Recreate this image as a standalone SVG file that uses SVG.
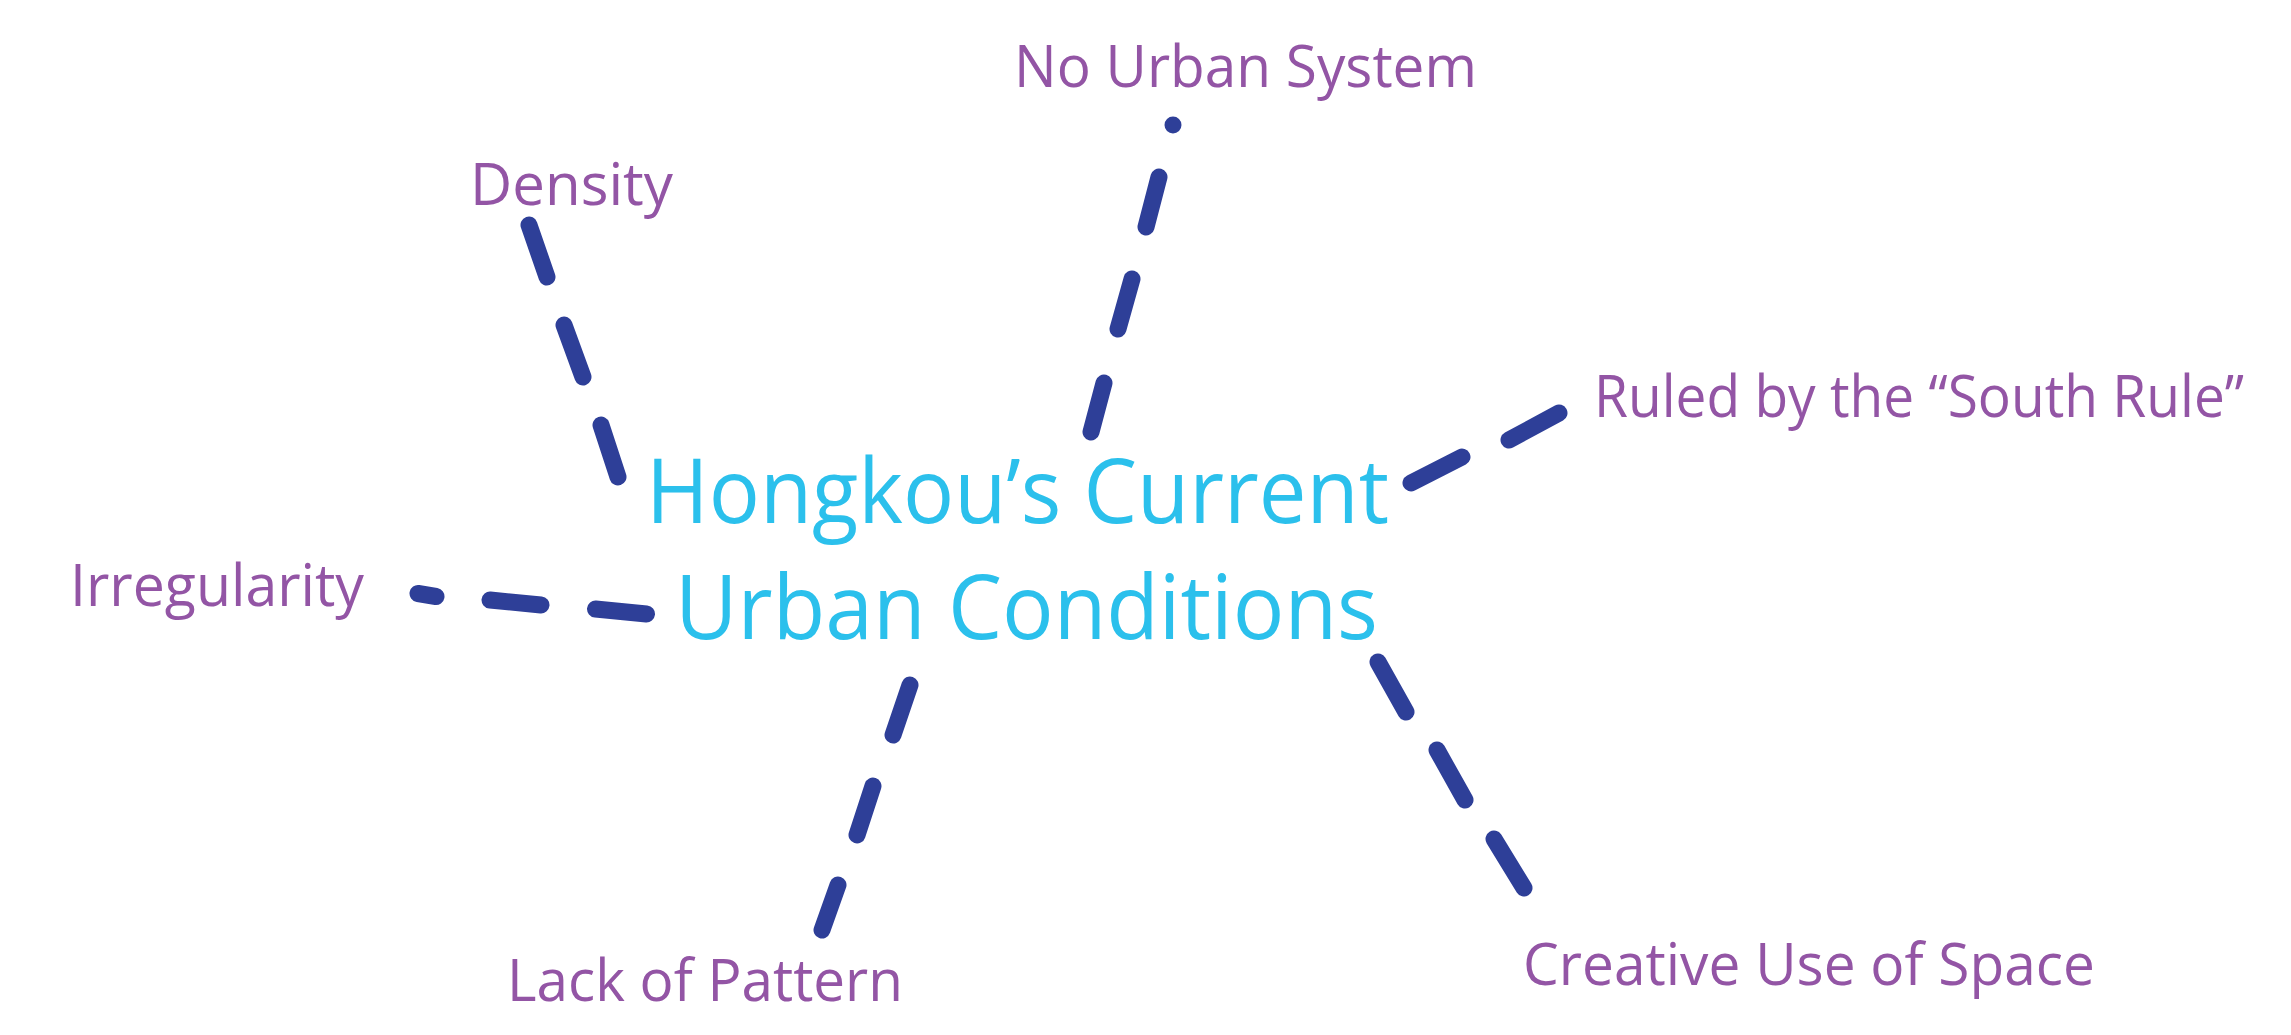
<svg xmlns="http://www.w3.org/2000/svg" width="2291" height="1035" viewBox="0 0 2291 1035">
<style>
.lbl{font-family:"Open Sans","Liberation Sans",sans-serif;font-size:59px;fill:#9355A5}
.ctr{font-family:"Open Sans","Liberation Sans",sans-serif;font-size:90px;fill:#2BC0EC}
.con{fill:none;stroke:#2E3F98;stroke-width:17;stroke-linecap:round}
</style>
<rect width="2291" height="1035" fill="#ffffff"/>
<g id="connectors">
<path class="con" d="M529,225 L547,277 M564,325 L583,377 M601,425 L618,477"/>
<path class="con" d="M1173,125 L1173,125.01 M1159,177 L1146,227 M1132,279 L1118,329 M1104,383 L1091,432"/>
<path class="con" d="M1559,413 L1509,440 M1462,457 L1411,483"/>
<path class="con" d="M418,593.5 L436,596.5 M490,600 L541,605 M595.5,609 L646.5,614"/>
<path class="con" d="M910,685 L893,735 M873,786 L857,835 M838,885 L822,930"/>
<path class="con" d="M1378,662 L1406,712 M1437,750 L1465,800 M1494,839 L1524,888"/>
</g>
<g id="center">
<text class="ctr" x="646" y="523" textLength="743" lengthAdjust="spacingAndGlyphs">Hongkou’s Current</text>
<text class="ctr" x="675" y="639" textLength="703" lengthAdjust="spacingAndGlyphs">Urban Conditions</text>
</g>
<g id="density"><text class="lbl" x="470" y="205" textLength="203" lengthAdjust="spacingAndGlyphs">Density</text></g>
<g id="no-urban-system"><text class="lbl" x="1014" y="87" textLength="463" lengthAdjust="spacingAndGlyphs">No Urban System</text></g>
<g id="south-rule"><text class="lbl" x="1594" y="417" textLength="650" lengthAdjust="spacingAndGlyphs">Ruled by the “South Rule”</text></g>
<g id="irregularity"><text class="lbl" x="70" y="606" textLength="294" lengthAdjust="spacingAndGlyphs">Irregularity</text></g>
<g id="lack-of-pattern"><text class="lbl" x="507" y="1001" textLength="396" lengthAdjust="spacingAndGlyphs">Lack of Pattern</text></g>
<g id="creative-use"><text class="lbl" x="1523" y="985" textLength="572" lengthAdjust="spacingAndGlyphs">Creative Use of Space</text></g>
</svg>
